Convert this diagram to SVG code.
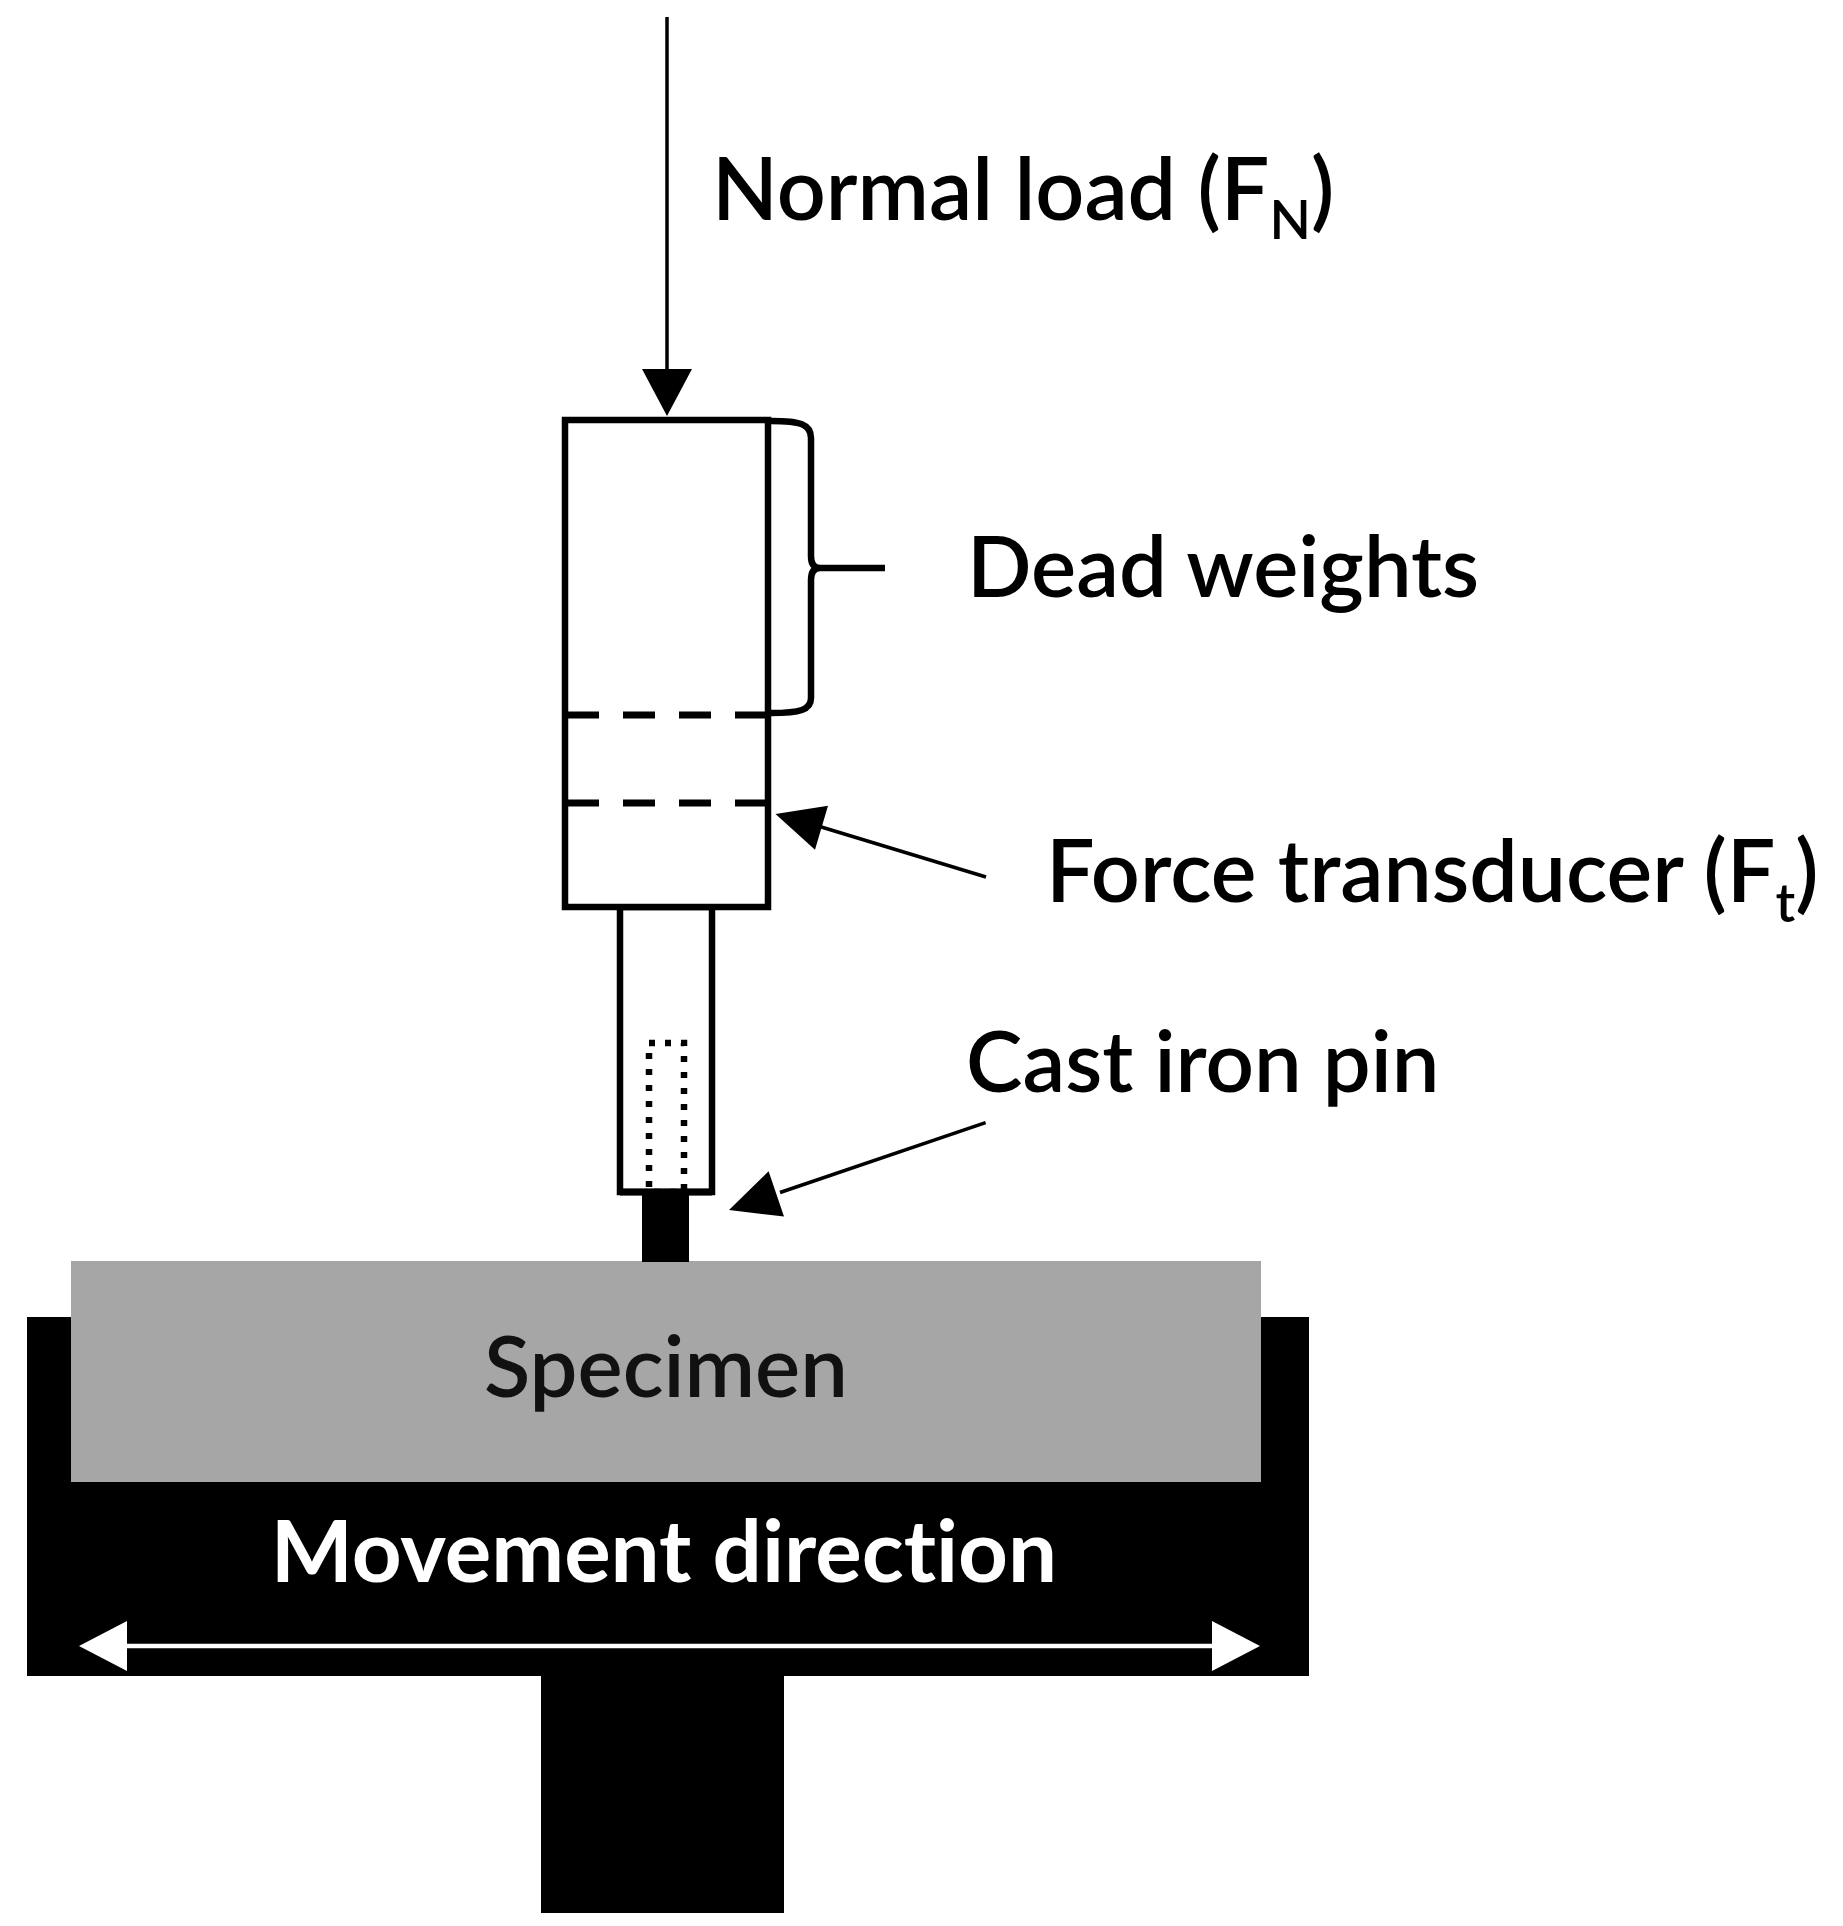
<svg xmlns="http://www.w3.org/2000/svg" width="1843" height="1926" viewBox="0 0 1843 1926">
<style>
.lbl{font-family:Lato,"Liberation Sans",sans-serif;font-size:85px;font-weight:600;fill:#000;font-variant-ligatures:none;font-feature-settings:"liga" 0}
.mv{font-weight:bold;fill:#fff;font-size:87px}
.ol{fill:#fff;stroke:#000;stroke-width:6.5}
.dash{stroke:#000;stroke-width:7;stroke-dasharray:32 24;fill:none}
.con{stroke:#000;stroke-width:3.5;fill:none}
.head{fill:#000}
</style>
<rect width="1843" height="1926" fill="#fff"/>
<g id="holder">
<rect x="27" y="1317" width="1282" height="359" fill="#000"/>
<rect x="541" y="1670" width="243" height="243" fill="#000"/>
</g>
<g id="specimen">
<rect x="71" y="1261" width="1190" height="221" fill="#a6a6a6"/>
<text class="lbl" x="666" y="1397" text-anchor="middle" style="fill:#111">Specimen</text>
</g>
<g id="rod">
<rect class="ol" x="620" y="907" width="92" height="285"/>
<rect x="649" y="1043" width="35" height="149" fill="none" stroke="#000" stroke-width="6.5" stroke-dasharray="6 10"/>
<rect x="620" y="1188.5" width="92" height="7" fill="#000"/>
</g>
<g id="pin">
<rect x="642" y="1192" width="47" height="70" fill="#000"/>
</g>
<g id="dead-weights">
<rect class="ol" x="565" y="420" width="203" height="487"/>
<line class="dash" x1="567" y1="715" x2="767" y2="715"/>
<line class="dash" x1="567" y1="803" x2="767" y2="803"/>
<path d="M771 421 C800 421 811 424 811 438 L811 556 C811 564 814 568 820 568 L885 568 M820 568 C814 568 811 572 811 580 L811 698 C811 710 800 713 771 713" fill="none" stroke="#000" stroke-width="6.5"/>
</g>
<g id="labels">
<text class="lbl" x="712" y="220" style="font-size:86px">Normal load (F<tspan font-size="54" dy="19">N</tspan><tspan dy="-19">)</tspan></text>
<text class="lbl" x="967" y="597">Dead weights</text>
<text class="lbl" x="1046" y="902" style="font-size:86px">Force transducer (F<tspan font-size="54" dy="20">t</tspan><tspan dy="-20">)</tspan></text>
<text class="lbl" x="966" y="1092">Cast iron pin</text>
<text class="lbl mv" x="664" y="1582" text-anchor="middle">Movement direction</text>
</g>
<g id="connectors">
<line class="con" x1="667" y1="17" x2="667" y2="372"/>
<polygon class="head" points="642,369 692,369 667,416"/>
<line class="con" x1="986" y1="877" x2="818" y2="826"/>
<polygon class="head" points="775.5,814 828,805.8 815,849.8"/>
<line class="con" x1="985.6" y1="1122.7" x2="780" y2="1192.5"/>
<polygon class="head" points="729,1210 784,1216.6 768.6,1171.2"/>
<line x1="125" y1="1646" x2="1214" y2="1646" stroke="#fff" stroke-width="4.5"/>
<polygon points="79,1646 127,1621 127,1671" fill="#fff"/>
<polygon points="1260,1646 1212,1621 1212,1671" fill="#fff"/>
</g>
</svg>
